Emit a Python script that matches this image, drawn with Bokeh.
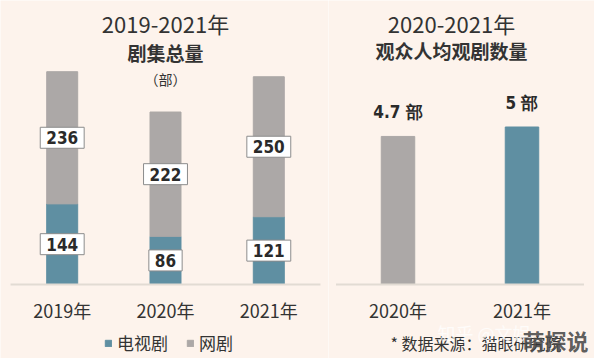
from bokeh.plotting import figure
from bokeh.models import ColumnDataSource, Legend, LegendItem, Range1d
from bokeh.layouts import row
from bokeh.embed import file_html
from bokeh.resources import INLINE
from bokeh.core.properties import value

# ---------------- data ----------------
years_total = ["2019年", "2020年", "2021年"]
tv_series = [144, 86, 121]
web_series = [236, 222, 250]
years_avg = ["2020年", "2021年"]
avg_watched = [4.7, 5]
avg_unit = "部"
legend_labels = ["电视剧", "网剧"]
left_title = "2019-2021年"
left_sub = "剧集总量"
left_unit = "（部）"
right_title = "2020-2021年"
right_sub = "观众人均观剧数量"
source_note = "* 数据来源：猫眼研究院"

# ---------------- style ----------------
BG = "#fdf3ec"
BLUE = "#5f8fa2"
GRAY = "#aca8a7"
LINE = "#e2dbd3"
TXT = "#333333"
CJK = "Noto Sans CJK SC"
NUM = "'DejaVu Sans Condensed', Roboto"

H = 358
BASE_REF = 284  # baseline in page px

# left panel geometry
LW = 328
KL = 0.56
L_C0, L_STEP = 61.7, 103.3
def lx(px): return (px - L_C0) / L_STEP
def ly(px): return (BASE_REF - px) / KL

# right panel geometry
RW = 266
KR = 31.5
R_C0, R_STEP = 397.5, 124.0
def rx(px): return (px - R_C0) / R_STEP
def ry(px): return (BASE_REF - px) / KR


def base_fig(w, xr, yr):
    p = figure(width=w, height=H, x_range=xr, y_range=yr,
               output_backend="svg", toolbar_location=None,
               min_border_left=0, min_border_right=0, min_border_top=0, min_border_bottom=0,
               background_fill_color=BG, border_fill_color=BG, outline_line_color=None)
    p.axis.visible = False
    p.grid.visible = False
    return p


# ================= left =================
left = base_fig(LW, Range1d(lx(0), lx(LW)), Range1d(ly(H), ly(0)))
n = len(years_total)
xs = list(range(n))
src = ColumnDataSource(dict(x=xs, tv=tv_series, web=web_series))
rs = left.vbar_stack(["tv", "web"], x="x", width=0.3, color=[BLUE, GRAY], source=src)

left.segment(x0=[-0.5], y0=[0], x1=[n - 0.5], y1=[0], line_color=LINE, line_width=2)

lab_x = xs + xs
lab_y = [t / 2 for t in tv_series] + [t + w / 2 for t, w in zip(tv_series, web_series)]
lab_t = [str(v) for v in tv_series] + [str(v) for v in web_series]
left.text(x=lab_x, y=lab_y, text=lab_t, text_align="center", text_baseline="middle",
          text_font=value(NUM), text_font_style="bold", text_font_size="17px", text_color="#2a2a2a",
          background_fill_color="white", border_line_color="#8c8c8c", border_line_width=1,
          padding=(6, 4))

left.text(x=xs, y=[ly(309.5)] * n, text=years_total, text_align="center", text_baseline="middle",
          text_font=value(CJK), text_font_size="18px", text_color=TXT)

mid = (n - 1) / 2
left.text(x=[mid], y=[ly(22)], text=[left_title], text_align="center", text_baseline="middle",
          text_font=value(CJK), text_font_size="22px", text_color=TXT)
left.text(x=[mid], y=[ly(51.5)], text=[left_sub], text_align="center", text_baseline="middle",
          text_font=value(CJK), text_font_style="bold", text_font_size="19px", text_color=TXT)
left.text(x=[mid], y=[ly(78)], text=[left_unit], text_align="center", text_baseline="middle",
          text_font=value(CJK), text_font_size="14px", text_color=TXT)

legend = Legend(items=[LegendItem(label=legend_labels[0], renderers=[rs[0]]),
                       LegendItem(label=legend_labels[1], renderers=[rs[1]])],
                orientation="horizontal", location=(104, 3), padding=0, margin=0,
                spacing=18, label_standoff=5, glyph_width=8, glyph_height=8,
                label_text_font=CJK, label_text_font_size="17px", label_text_color=TXT,
                background_fill_alpha=0, border_line_alpha=0)
left.add_layout(legend)

# ================= right =================
right = base_fig(RW, Range1d(rx(328), rx(328 + RW)), Range1d(ry(H), ry(0)))
m = len(years_avg)
rxs = list(range(m))
bar_colors = [GRAY, BLUE]
rsrc = ColumnDataSource(dict(x=rxs, v=avg_watched, c=bar_colors,
                             t=[f"{v} {avg_unit}" for v in avg_watched]))
right.vbar(x="x", top="v", width=0.27, fill_color="c", line_color="c", source=rsrc)
right.segment(x0=[-0.5], y0=[0], x1=[m - 0.5], y1=[0], line_color=LINE, line_width=2)
right.text(x="x", y="v", text="t", y_offset=-24, text_align="center", text_baseline="middle",
           text_font=value(NUM), text_font_style="bold", text_font_size="17px", text_color="#2a2a2a",
           source=rsrc)
right.text(x=rxs, y=[ry(309.5)] * m, text=years_avg, text_align="center", text_baseline="middle",
           text_font=value(CJK), text_font_size="18px", text_color=TXT)
right.text(x=[rx(451)], y=[ry(22)], text=[right_title], text_align="center", text_baseline="middle",
           text_font=value(CJK), text_font_size="22px", text_color=TXT)
right.text(x=[rx(451)], y=[ry(50)], text=[right_sub], text_align="center", text_baseline="middle",
           text_font=value(CJK), text_font_style="bold", text_font_size="19px", text_color=TXT)
right.text(x=[rx(390)], y=[ry(342)], text=[source_note], text_align="left", text_baseline="middle",
           text_font=value(CJK), text_font_size="16px", text_color=TXT)
right.text(x=[rx(437)], y=[ry(332)], text=["知乎 @文娱"], text_align="left", text_baseline="middle",
           text_font=value(CJK), text_font_size="18px", text_color="white", text_alpha=0.75)
right.text(x=[rx(588)], y=[ry(339)], text=["萌探说"], text_align="right", text_baseline="middle",
           text_font=value(CJK), text_font_style="bold", text_font_size="22px", text_color="#4a4a4a",
           text_alpha=0.9)

layout = row(left, right, spacing=0)
open("out.html", "w").write(file_html(layout, INLINE))
